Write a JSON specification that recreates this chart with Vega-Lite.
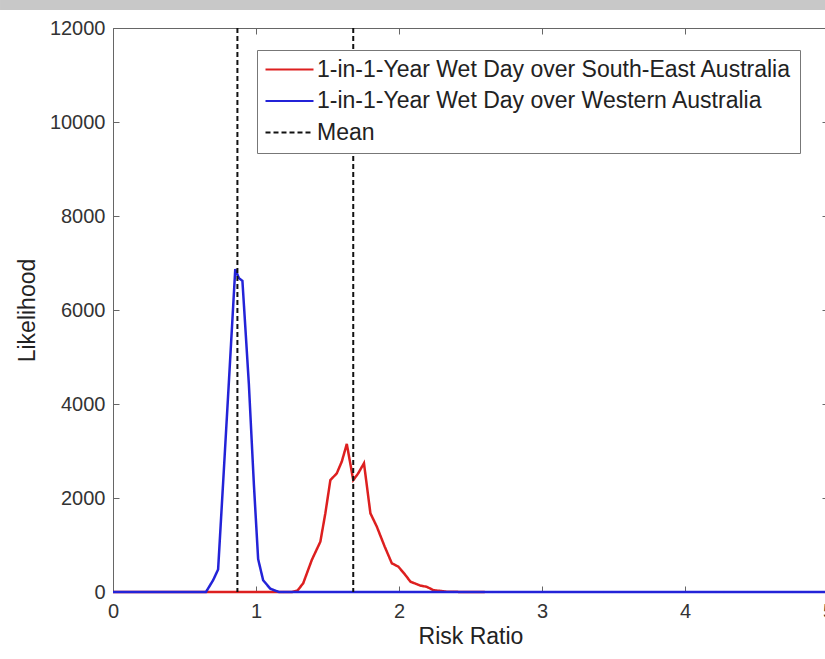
{
  "$schema": "https://vega.github.io/schema/vega-lite/v6.json",
  "padding": 0,
  "spacing": 8,
  "background": "white",
  "config": {"font": "Liberation Sans", "view": {"stroke": null}},
  "datasets": {
    "band": [
      {"start": -0.79, "end": 5.8}
    ],
    "se": [
      {"ratio": 0, "likelihood": 0, "series": "1-in-1-Year Wet Day over South-East Australia"},
      {"ratio": 1.25, "likelihood": 0, "series": "1-in-1-Year Wet Day over South-East Australia"},
      {"ratio": 1.29, "likelihood": 30, "series": "1-in-1-Year Wet Day over South-East Australia"},
      {"ratio": 1.33, "likelihood": 185, "series": "1-in-1-Year Wet Day over South-East Australia"},
      {"ratio": 1.39, "likelihood": 680, "series": "1-in-1-Year Wet Day over South-East Australia"},
      {"ratio": 1.45, "likelihood": 1070, "series": "1-in-1-Year Wet Day over South-East Australia"},
      {"ratio": 1.485, "likelihood": 1675, "series": "1-in-1-Year Wet Day over South-East Australia"},
      {"ratio": 1.52, "likelihood": 2380, "series": "1-in-1-Year Wet Day over South-East Australia"},
      {"ratio": 1.565, "likelihood": 2525, "series": "1-in-1-Year Wet Day over South-East Australia"},
      {"ratio": 1.6, "likelihood": 2775, "series": "1-in-1-Year Wet Day over South-East Australia"},
      {"ratio": 1.635, "likelihood": 3150, "series": "1-in-1-Year Wet Day over South-East Australia"},
      {"ratio": 1.68, "likelihood": 2380, "series": "1-in-1-Year Wet Day over South-East Australia"},
      {"ratio": 1.715, "likelihood": 2525, "series": "1-in-1-Year Wet Day over South-East Australia"},
      {"ratio": 1.755, "likelihood": 2740, "series": "1-in-1-Year Wet Day over South-East Australia"},
      {"ratio": 1.8, "likelihood": 1675, "series": "1-in-1-Year Wet Day over South-East Australia"},
      {"ratio": 1.845, "likelihood": 1390, "series": "1-in-1-Year Wet Day over South-East Australia"},
      {"ratio": 1.9, "likelihood": 965, "series": "1-in-1-Year Wet Day over South-East Australia"},
      {"ratio": 1.95, "likelihood": 610, "series": "1-in-1-Year Wet Day over South-East Australia"},
      {"ratio": 1.995, "likelihood": 540, "series": "1-in-1-Year Wet Day over South-East Australia"},
      {"ratio": 2.04, "likelihood": 380, "series": "1-in-1-Year Wet Day over South-East Australia"},
      {"ratio": 2.08, "likelihood": 220, "series": "1-in-1-Year Wet Day over South-East Australia"},
      {"ratio": 2.15, "likelihood": 135, "series": "1-in-1-Year Wet Day over South-East Australia"},
      {"ratio": 2.195, "likelihood": 110, "series": "1-in-1-Year Wet Day over South-East Australia"},
      {"ratio": 2.24, "likelihood": 40, "series": "1-in-1-Year Wet Day over South-East Australia"},
      {"ratio": 2.33, "likelihood": 8, "series": "1-in-1-Year Wet Day over South-East Australia"},
      {"ratio": 2.45, "likelihood": 0, "series": "1-in-1-Year Wet Day over South-East Australia"},
      {"ratio": 2.6, "likelihood": 0, "series": "1-in-1-Year Wet Day over South-East Australia"}
    ],
    "wa": [
      {"ratio": 0, "likelihood": 0, "series": "1-in-1-Year Wet Day over Western Australia"},
      {"ratio": 0.65, "likelihood": 0, "series": "1-in-1-Year Wet Day over Western Australia"},
      {"ratio": 0.7, "likelihood": 250, "series": "1-in-1-Year Wet Day over Western Australia"},
      {"ratio": 0.735, "likelihood": 480, "series": "1-in-1-Year Wet Day over Western Australia"},
      {"ratio": 0.77, "likelihood": 2320, "series": "1-in-1-Year Wet Day over Western Australia"},
      {"ratio": 0.81, "likelihood": 4450, "series": "1-in-1-Year Wet Day over Western Australia"},
      {"ratio": 0.855, "likelihood": 6870, "series": "1-in-1-Year Wet Day over Western Australia"},
      {"ratio": 0.88, "likelihood": 6680, "series": "1-in-1-Year Wet Day over Western Australia"},
      {"ratio": 0.905, "likelihood": 6620, "series": "1-in-1-Year Wet Day over Western Australia"},
      {"ratio": 0.95, "likelihood": 4430, "series": "1-in-1-Year Wet Day over Western Australia"},
      {"ratio": 0.985, "likelihood": 2300, "series": "1-in-1-Year Wet Day over Western Australia"},
      {"ratio": 1.015, "likelihood": 700, "series": "1-in-1-Year Wet Day over Western Australia"},
      {"ratio": 1.05, "likelihood": 250, "series": "1-in-1-Year Wet Day over Western Australia"},
      {"ratio": 1.1, "likelihood": 70, "series": "1-in-1-Year Wet Day over Western Australia"},
      {"ratio": 1.16, "likelihood": 0, "series": "1-in-1-Year Wet Day over Western Australia"},
      {"ratio": 5, "likelihood": 0, "series": "1-in-1-Year Wet Day over Western Australia"}
    ],
    "means": [
      {"ratio": 0.87, "series": "Mean"},
      {"ratio": 1.68, "series": "Mean"}
    ]
  },
  "vconcat": [
    {
      "width": 715,
      "height": 10,
      "data": {"name": "band"},
      "mark": {"type": "rect", "color": "#c8c8c8", "clip": false},
      "encoding": {
        "x": {"field": "start", "type": "quantitative", "scale": {"domain": [0, 5], "nice": false, "zero": false}, "axis": null},
        "x2": {"field": "end"}
      }
    },
    {
      "width": 715,
      "height": 564,
      "resolve": {"axis": {"x": "independent", "y": "independent"}},
      "layer": [
        {
          "data": {"name": "se"},
          "mark": {"type": "line", "strokeWidth": 2.5},
          "encoding": {
            "x": {"field": "ratio", "type": "quantitative",
              "scale": {"domain": [0, 5], "nice": false, "zero": false},
              "axis": {"orient": "bottom", "values": [0, 1, 2, 3, 4, 5], "title": "Risk Ratio",
                "titleFontSize": 23, "titleFontWeight": "normal", "titleColor": "#222", "titlePadding": 4,
                "labelFontSize": 20, "labelColor": "#333", "labelPadding": 15, "labelFlush": false,
                "tickSize": -6, "tickColor": "#666", "domainColor": "#666", "grid": false}},
            "y": {"field": "likelihood", "type": "quantitative",
              "scale": {"domain": [0, 12000], "nice": false},
              "axis": {"orient": "left", "values": [0, 2000, 4000, 6000, 8000, 10000, 12000], "format": "d",
                "title": ["", "Likelihood"], "titleLineHeight": 16, "titleX": -90,
                "titleFontSize": 23, "titleFontWeight": "normal", "titleColor": "#222",
                "labelFontSize": 20, "labelColor": "#333", "labelPadding": 14,
                "tickSize": -6, "tickColor": "#666", "domainColor": "#666", "grid": false}},
            "color": {"field": "series", "type": "nominal",
              "scale": {"domain": ["1-in-1-Year Wet Day over South-East Australia", "1-in-1-Year Wet Day over Western Australia", "Mean"],
                "range": ["#dd1f1f", "#2323d8", "#111111"]},
              "legend": {"title": null, "orient": "none", "legendX": 144, "legendY": 50, "direction": "vertical",
                "padding": 8, "strokeColor": "#777", "fillColor": "white",
                "symbolType": "M-2.2,0H7.4", "symbolSize": 100, "symbolStrokeWidth": 2.2, "symbolFillColor": "transparent",
                "labelFontSize": 23, "labelColor": "#222", "labelOffset": 29, "labelLimit": 700, "rowPadding": 7.5}},
            "strokeDash": {"field": "series", "type": "nominal",
              "scale": {"domain": ["1-in-1-Year Wet Day over South-East Australia", "1-in-1-Year Wet Day over Western Australia", "Mean"],
                "range": [[1, 0], [1, 0], [5, 3]]}}
          }
        },
        {
          "data": {"name": "wa"},
          "mark": {"type": "line", "strokeWidth": 2.5},
          "encoding": {
            "x": {"field": "ratio", "type": "quantitative",
              "axis": {"orient": "top", "values": [0, 1, 2, 3, 4, 5], "title": null, "labels": false,
                "tickSize": -6, "tickColor": "#666", "domainColor": "#666", "grid": false}},
            "y": {"field": "likelihood", "type": "quantitative",
              "axis": {"orient": "right", "values": [0, 2000, 4000, 6000, 8000, 10000, 12000], "title": null, "labels": false,
                "tickSize": -6, "tickColor": "#666", "domainColor": "#666", "grid": false}},
            "color": {"field": "series", "type": "nominal"},
            "strokeDash": {"field": "series", "type": "nominal"}
          }
        },
        {
          "data": {"name": "means"},
          "mark": {"type": "rule", "strokeWidth": 2},
          "encoding": {
            "x": {"field": "ratio", "type": "quantitative", "axis": null},
            "color": {"field": "series", "type": "nominal"},
            "strokeDash": {"field": "series", "type": "nominal"}
          }
        }
      ]
    }
  ]
}
